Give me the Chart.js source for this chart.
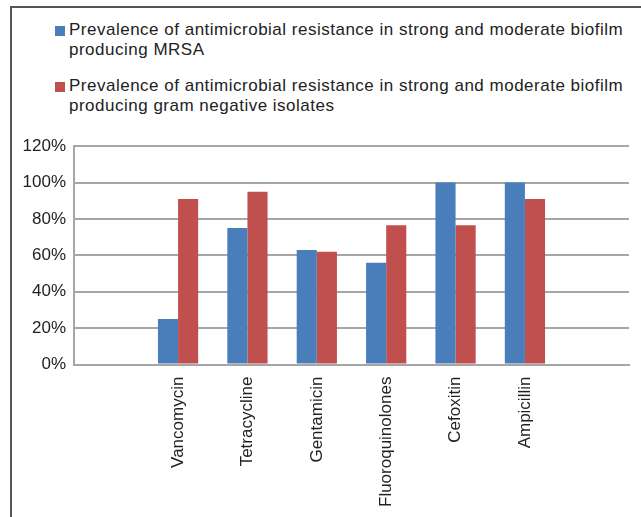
<!DOCTYPE html>
<html lang="en">
<head>
    <meta charset="UTF-8">
    <title>Antimicrobial resistance in biofilm producers</title>
    <script src="https://cdn.jsdelivr.net/npm/chart.js"></script>
    <style>
        body { margin: 0; background: #fff; font-family: "Liberation Sans", Arial, sans-serif; }
        #frame { position: absolute; left: 10px; top: 6px; width: 640px; height: 520px;
                 border-left: 2px solid #555; border-top: 2px solid #555; }
        .legend-item { position: absolute; left: 57px; width: 575px; font-size: 17px; letter-spacing: 0.5px;
                       line-height: 20px; color: #222; }
        .legend-item span.box { position: absolute; left: -14px; top: 6px; width: 10px; height: 10px; }
        #chartBox { position: absolute; left: 0; top: 128px; width: 641px; height: 389px; }
    </style>
</head>
<body>
    <div id="frame">
        <div class="legend-item" style="top: 12px;"><span class="box" style="background:#4A7EBB"></span>Prevalence of antimicrobial resistance in strong and moderate biofilm producing MRSA</div>
        <div class="legend-item" style="top: 68px;"><span class="box" style="background:#C0504D"></span>Prevalence of antimicrobial resistance in strong and moderate biofilm producing gram negative isolates</div>
    </div>
    <div id="chartBox"><canvas id="myChart"></canvas></div>

    <script>
        // data (empty slots at both ends, as in the original)
        const drugs = ['', 'Vancomycin', 'Tetracycline', 'Gentamicin', 'Fluoroquinolones', 'Cefoxitin', 'Ampicillin', ''];
        const mrsa = [null, 25, 75, 63, 56, 100, 100, null];
        const gramNeg = [null, 91, 95, 62, 76.5, 76.5, 91, null];
        const yTicks = [0, 20, 40, 60, 80, 100, 120];

        const ctx = document.getElementById('myChart').getContext('2d');
        const myChart = new Chart(ctx, {
            type: 'bar',
            data: {
                labels: drugs,
                datasets: [{
                    label: 'Prevalence of antimicrobial resistance in strong and moderate biofilm producing MRSA',
                    data: mrsa,
                    backgroundColor: '#4A7EBB'
                }, {
                    label: 'Prevalence of antimicrobial resistance in strong and moderate biofilm producing gram negative isolates',
                    data: gramNeg,
                    backgroundColor: '#C0504D'
                }]
            },
            options: {
                responsive: true,
                maintainAspectRatio: false,
                animation: false,
                categoryPercentage: 0.58,
                barPercentage: 1.0,
                layout: { padding: { top: 10, right: 12, left: 0, bottom: 6 } },
                plugins: {
                    legend: { display: false },
                    tooltip: { enabled: false }
                },
                scales: {
                    x: {
                        grid: { display: false },
                        border: { color: '#a6a6a6', width: 2 },
                        ticks: {
                            minRotation: 90, maxRotation: 90, padding: 4, autoSkip: false,
                            color: '#222', font: { family: 'Liberation Sans', size: 17 }
                        }
                    },
                    y: {
                        min: 0, max: 120,
                        afterBuildTicks: axis => { axis.ticks = yTicks.map(v => ({ value: v })); },
                        afterFit: axis => { axis.width = 74; },
                        grid: { color: '#a6a6a6', lineWidth: 2, drawTicks: false },
                        border: { color: '#a6a6a6', width: 2 },
                        ticks: {
                            padding: 8, color: '#222',
                            font: { family: 'Liberation Sans', size: 17 },
                            callback: v => v + '%'
                        }
                    }
                }
            }
        });
    </script>
</body>
</html>
